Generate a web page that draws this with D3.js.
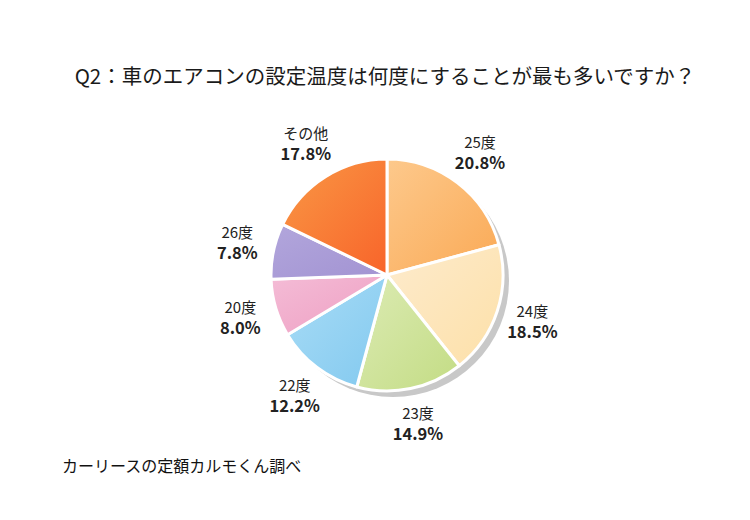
<!DOCTYPE html>
<html>
<head>
<meta charset="utf-8">
<script src="https://cdn.jsdelivr.net/npm/d3@7"></script>
<style>
  body { margin: 0; background: #fff; }
  svg { font-family: "Noto Sans CJK JP", "Noto Sans", sans-serif; }
</style>
</head>
<body>
<div id="chart"></div>
<script>
// Survey answers, clockwise from 12 o'clock
var categories = ['25度', '24度', '23度', '22度', '20度', '26度', 'その他'];
var shares = [20.8, 18.5, 14.9, 12.2, 8.0, 7.8, 17.8];
var shareLabels = ['20.8%', '18.5%', '14.9%', '12.2%', '8.0%', '7.8%', '17.8%'];

// light / dark stop for each slice gradient
var colors = [
  ['#fdc98c', '#faa955'],
  ['#fdebcd', '#fde0a8'],
  ['#dcebb4', '#c3dc84'],
  ['#a9dcf6', '#82c9ef'],
  ['#f4bcd6', '#ee9ec2'],
  ['#b2a6dc', '#a293d2'],
  ['#f99845', '#f8642a']
];

var width = 750, height = 520;
var cx = 387, cy = 275, radius = 116;

var svg = d3.select('#chart').append('svg')
  .attr('width', width)
  .attr('height', height);

var defs = svg.append('defs');
colors.forEach(function (c, i) {
  var g = defs.append('linearGradient')
    .attr('id', 'grad' + i)
    .attr('x1', '0%').attr('y1', '0%')
    .attr('x2', '100%').attr('y2', '100%');
  g.append('stop').attr('offset', '0%').attr('stop-color', c[0]);
  g.append('stop').attr('offset', '100%').attr('stop-color', c[1]);
});

svg.append('text')
  .attr('x', 385)
  .attr('y', 84)
  .attr('text-anchor', 'middle')
  .attr('font-size', 20.5)
  .attr('fill', '#1a1a1a')
  .text('Q2：車のエアコンの設定温度は何度にすることが最も多いですか？');

var pie = d3.pie().sort(null).value(function (d) { return d; });
var arcs = pie(shares);

var arc = d3.arc().innerRadius(0).outerRadius(radius);
var labelArc = d3.arc().innerRadius(153).outerRadius(153);

var chart = svg.append('g').attr('transform', 'translate(' + cx + ',' + cy + ')');

// drop shadow
chart.append('circle')
  .attr('cx', 6)
  .attr('cy', 6)
  .attr('r', radius)
  .attr('fill', '#c8c8c8');

chart.selectAll('path.slice')
  .data(arcs)
  .join('path')
  .attr('class', 'slice')
  .attr('d', arc)
  .attr('fill', function (d, i) { return 'url(#grad' + i + ')'; })
  .attr('stroke', '#fff')
  .attr('stroke-width', 3)
  .attr('stroke-linejoin', 'round');

var labels = chart.selectAll('g.label')
  .data(arcs)
  .join('g')
  .attr('class', 'label')
  .attr('transform', function (d) {
    var c = labelArc.centroid(d);
    return 'translate(' + c[0] + ',' + c[1] + ')';
  });

labels.append('text')
  .attr('text-anchor', 'middle')
  .attr('y', -6)
  .attr('font-size', 15)
  .attr('fill', '#222')
  .text(function (d, i) { return categories[i]; });

labels.append('text')
  .attr('text-anchor', 'middle')
  .attr('y', 15)
  .attr('font-size', 16.5)
  .attr('font-weight', 'bold')
  .attr('fill', '#222')
  .text(function (d, i) { return shareLabels[i]; });

svg.append('text')
  .attr('x', 62)
  .attr('y', 472)
  .attr('font-size', 16)
  .attr('fill', '#111')
  .text('カーリースの定額カルモくん調べ');
</script>
</body>
</html>
